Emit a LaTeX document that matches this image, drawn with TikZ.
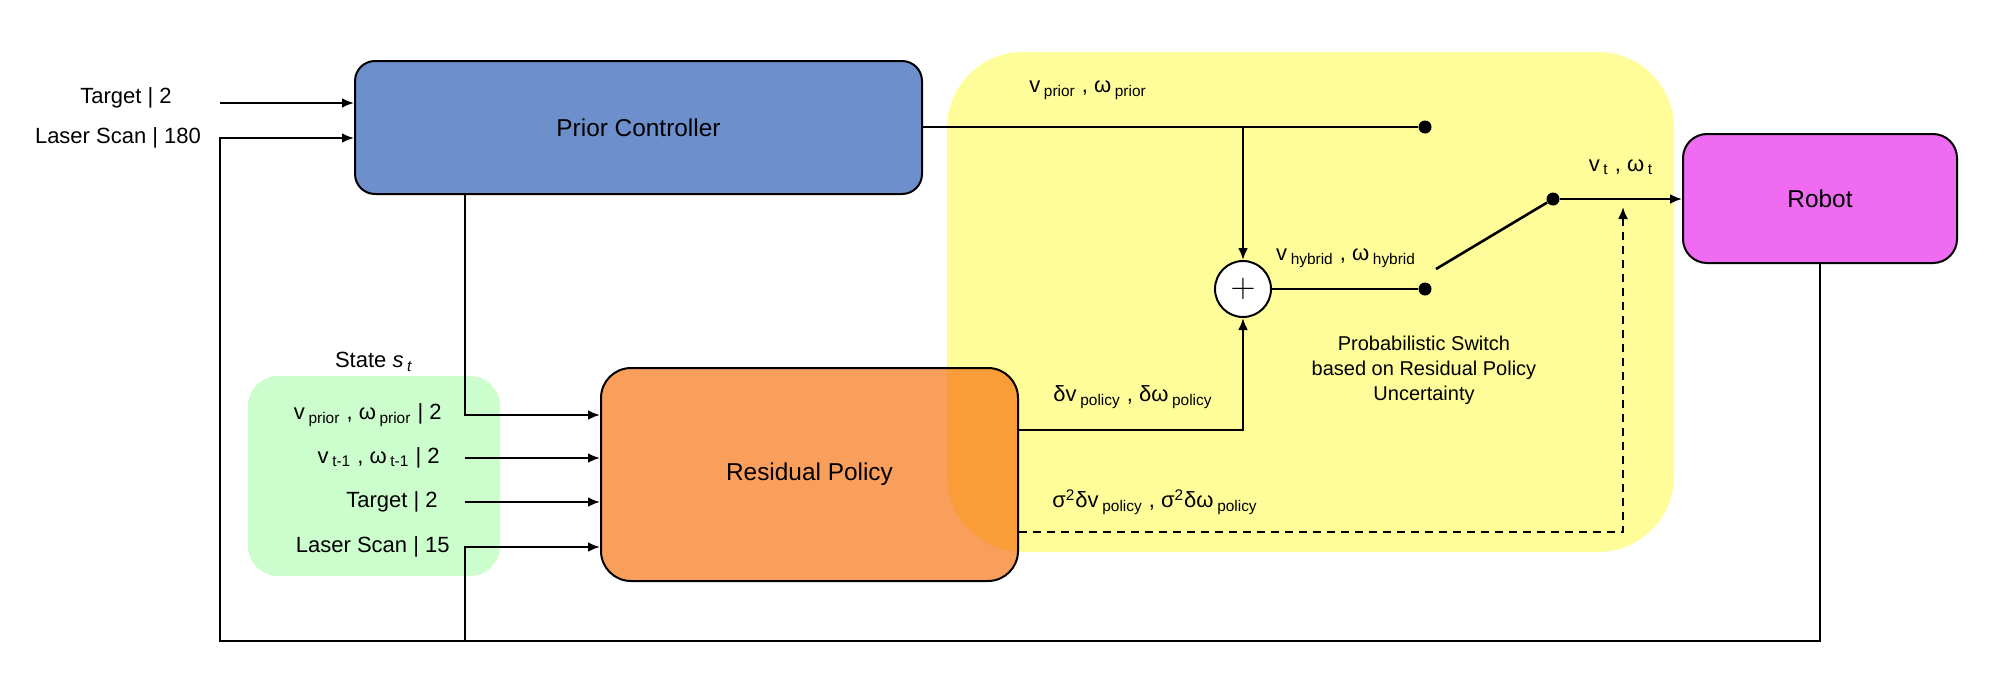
\documentclass[tikz,border=0pt]{standalone}
\usepackage{fontspec}
\setmainfont{Liberation Sans}
\usetikzlibrary{arrows.meta, positioning, calc}
\definecolor{PriorBlue}{HTML}{6D8FCC}
\definecolor{PolicyOrange}{HTML}{FA9E5C}
\definecolor{RobotPink}{HTML}{EF6BF1}
\definecolor{StateGreen}{HTML}{CCFDCC}
\definecolor{SwitchYellow}{HTML}{FFFD99}

\begin{document}
\begin{tikzpicture}[
    x=0.5pt, y=-0.5pt,
    block/.style={rectangle, rounded corners=10pt, draw=black, line width=1pt,
                  inner sep=0pt, font=\fontsize{12.2}{14}\selectfont},
    zone/.style={rectangle, rounded corners=38pt, inner sep=0pt},
    arrow/.style={-{Latex[length=6pt,width=5pt]}, line width=1.3pt},
    link/.style={line width=1.3pt},
    label/.style={inner sep=0pt, font=\fontsize{11}{13}\selectfont},
    note/.style={inner sep=0pt, align=center, font=\fontsize{10}{12.5}\selectfont},
    dot/.style={circle, fill=black, inner sep=0pt, minimum size=6.5pt}
]
\useasboundingbox (0,0) rectangle (2002,680);

% state area and blocks
\node[zone, fill=StateGreen, rounded corners=15pt, minimum width=126pt, minimum height=100pt] (state) at (374,476) {};
\node[block, fill=PriorBlue, minimum width=283.5pt, minimum height=66.5pt] (prior) at (638.5,127.5) {Prior Controller};
\node[block, fill=PolicyOrange, rounded corners=15pt, minimum width=208.5pt, minimum height=106.5pt] (policy) at (809.5,474.5) {Residual Policy};
\node[block, fill=RobotPink, rounded corners=12pt, minimum width=137pt, minimum height=64.5pt] (robot) at (1820,198.5) {Robot};

% switch area (multiplied over the policy block)
\begin{scope}[blend mode=multiply]
\node[zone, fill=SwitchYellow, minimum width=363.5pt, minimum height=250pt] (switch) at (1310.5,302) {};
\end{scope}

\node[circle, draw, fill=white, line width=1pt, minimum size=28pt, inner sep=0pt,
      font=\fontsize{17}{17}\selectfont] (sum) at (1243,289) {$+$};
\node[dot] (priordot) at (1425,127) {};
\node[dot] (hybriddot) at (1425,289) {};
\node[dot] (outdot) at (1553,199) {};
\coordinate (lever) at (1436,269);
\coordinate (loopcorner) at (220,641);
\coordinate (tap) at (465,641);

% inputs
\node[label] (tgtin) at (126,98) {Target | 2};
\node[label] (scanin) at (118,138) {Laser Scan | 180};
\coordinate (tgtstart) at (220,103);
\node[label] (statetitle) at (374,362) {State \textit{s}\,\textsubscript{\textit{t}}};
\node[label, anchor=east] (sprior) at (442,415) {v\,\textsubscript{prior} , ω\,\textsubscript{prior} | 2};
\node[label, anchor=east] (sprev) at (440,458) {v\,\textsubscript{t-1} , ω\,\textsubscript{t-1} | 2};
\node[label, anchor=east] (starget) at (438,502) {Target | 2};
\node[label, anchor=east] (sscan) at (450,547) {Laser Scan | 15};

% signal labels
\node[label] (vprior) at (1088,90) {v\,\textsubscript{prior} , ω\,\textsubscript{prior}};
\node[label] (vhybrid) at (1346,258) {v\,\textsubscript{hybrid} , ω\,\textsubscript{hybrid}};
\node[label] (vout) at (1621,167) {v\,\textsubscript{t} , ω\,\textsubscript{t}};
\node[label] (dpolicy) at (1133,397) {δv\,\textsubscript{policy} , δω\,\textsubscript{policy}};
\node[label] (spolicy) at (1155,502) {σ\textsuperscript{2}δv\,\textsubscript{policy} , σ\textsuperscript{2}δω\,\textsubscript{policy}};
\node[note] (switchnote) at (1424,370) {Probabilistic Switch\\based on Residual Policy\\Uncertainty};

% connectors
\draw[arrow] (tgtstart) -- (tgtstart -| prior.west);
\draw[arrow] (robot.south) |- (loopcorner) |- (prior.west |- scanin);
\draw[arrow] (tap) |- (policy.west |- sscan);
\draw[arrow] (prior.south -| tap) |- (policy.west |- sprior);
\draw[arrow] (sprev -| tap) -- (policy.west |- sprev);
\draw[arrow] (starget -| tap) -- (policy.west |- starget);

\draw[link] (prior.east |- priordot) -- (priordot);
\draw[arrow] (sum |- priordot) -- (sum.north);
\draw[link] (sum) -- (hybriddot);
\draw[link] (lever) -- (outdot);
\draw[arrow] (outdot) -- (robot.west |- outdot);
\draw[arrow] ($(policy.east)+(0,-44.5)$) -| (sum.south);
\draw[arrow, line width=1pt, dash pattern=on 4pt off 3pt] ($(policy.east)+(0,57.5)$) -| ($(outdot)+(70,8)$);

\end{tikzpicture}
\end{document}
